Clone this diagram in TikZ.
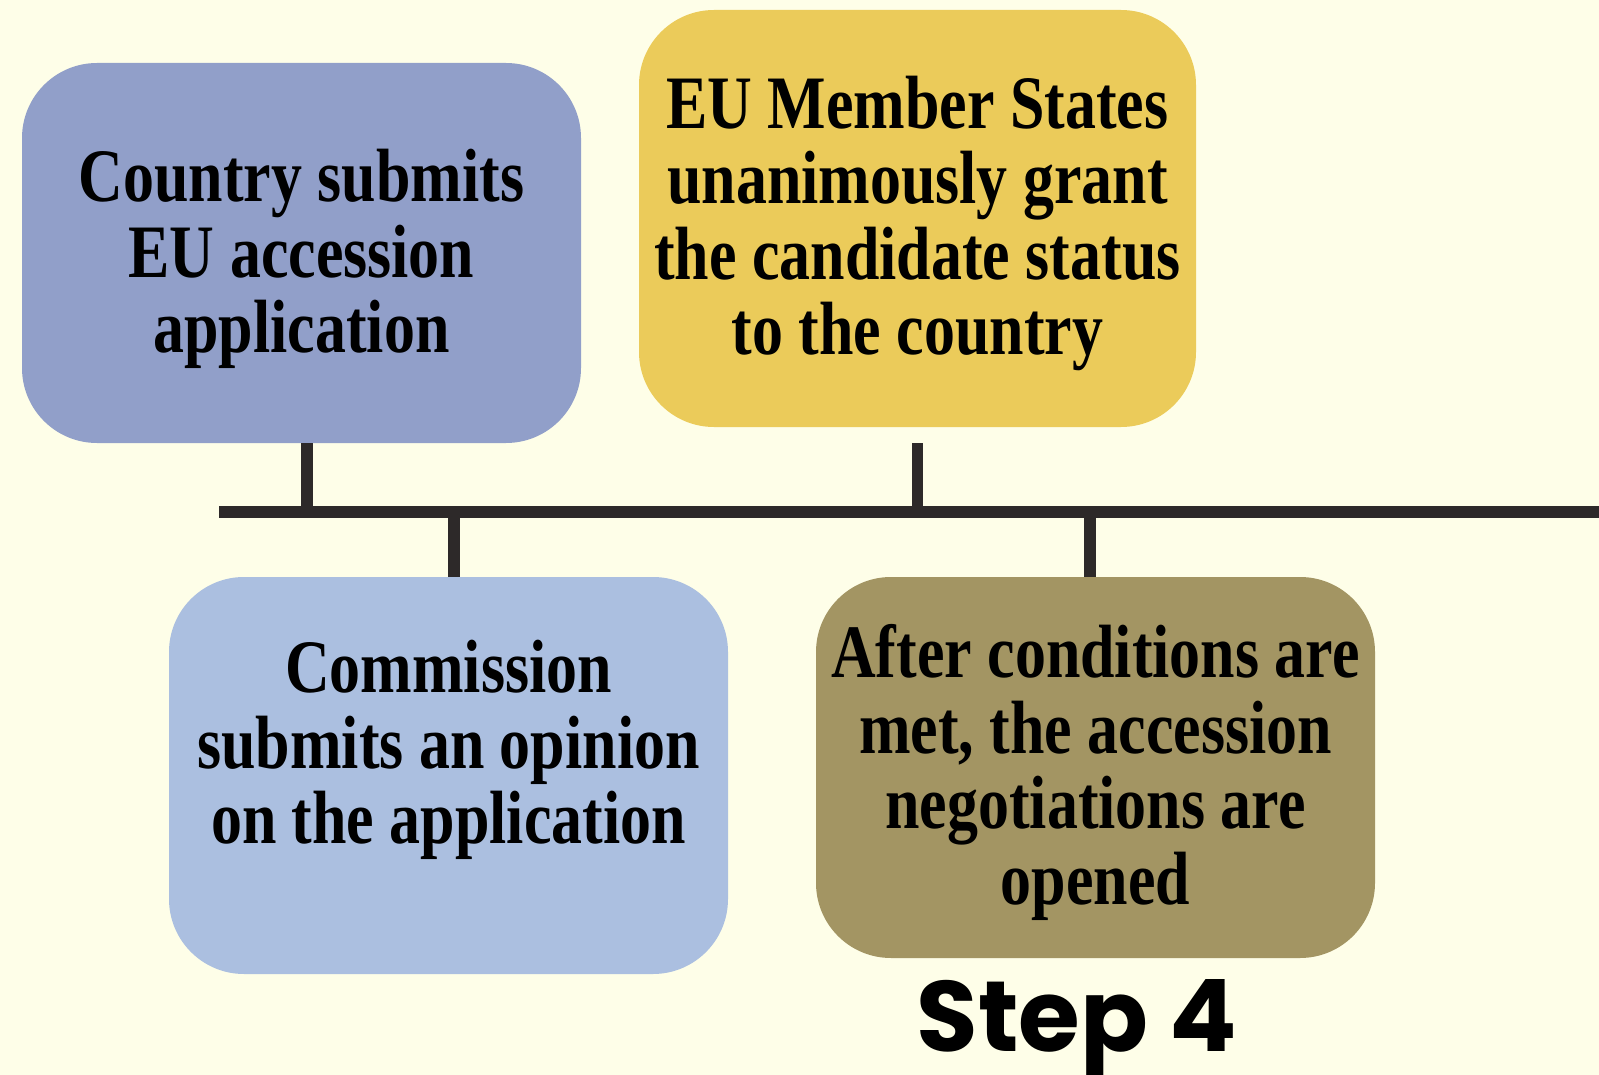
\documentclass[tikz,border=0pt]{standalone}
\usepackage{fontspec}
\newfontfamily\boxfont{Liberation Serif}[FakeStretch=0.82]
\newfontfamily\stepfont{Poppins}
\definecolor{cream}{HTML}{FEFEE8}
\definecolor{slateblue}{HTML}{919FC9}
\definecolor{mustard}{HTML}{EBCB5A}
\definecolor{paleblue}{HTML}{ABBFE0}
\definecolor{olive}{HTML}{A39563}
\definecolor{railgrey}{HTML}{2D2929}
\tikzset{
  stepbox/.style={rounded corners=75pt, minimum width=559pt, inner sep=0pt},
  boxtext/.style={font=\boxfont\bfseries\fontsize{75.5}{75.5}\selectfont, align=center, inner sep=0pt},
  rail/.style={draw=railgrey, line width=12pt},
  stem/.style={draw=railgrey, line width=11.5pt}
}

\begin{document}
\begin{tikzpicture}[x=1pt,y=-1pt]
\fill[cream] (0,0) rectangle (1599,1075);
\useasboundingbox (0,0) rectangle (1599,1075);

\draw (301.5,253)   node (b1) [stepbox, fill=slateblue, minimum height=380pt] {};
\draw (301.5,259)   node (t1) [boxtext] {Country submits\\EU accession\\application};

\draw (917.5,218.5) node (b2) [stepbox, fill=mustard, minimum width=557pt, minimum height=417pt] {};
\draw (917.5,223.5) node (t2) [boxtext] {EU Member States\\unanimously grant\\the candidate status\\to the country};

\draw (448.5,775.5) node (b3) [stepbox, fill=paleblue, minimum height=397pt] {};
\draw (448.5,750)   node (t3) [boxtext] {Commission\\submits an opinion\\on the application};

\draw (1095.5,767.5) node (b4) [stepbox, fill=olive, minimum height=381pt] {};
\draw (1095.5,772.5) node (t4) [boxtext] {After conditions are\\met, the accession\\negotiations are\\opened};

\draw (1077,1051)   node (s4) [anchor=base, inner sep=0pt, font=\stepfont\bfseries\fontsize{100}{100}\selectfont] {Step 4};

\coordinate (railL) at (219,512);
\coordinate (railR) at (1599,512);
\draw[stem] ([xshift=5.5pt]b1.south) -- ([xshift=5.5pt]b1.south |- railL);
\draw[stem] ([yshift=-16pt]b2.south) -- (b2.south |- railL);
\draw[stem] ([xshift=5.5pt]b3.north) -- ([xshift=5.5pt]b3.north |- railL);
\draw[stem] ([xshift=-5.5pt]b4.north) -- ([xshift=-5.5pt]b4.north |- railL);
\draw[rail] (railL) -- (railR);
\end{tikzpicture}
\end{document}
